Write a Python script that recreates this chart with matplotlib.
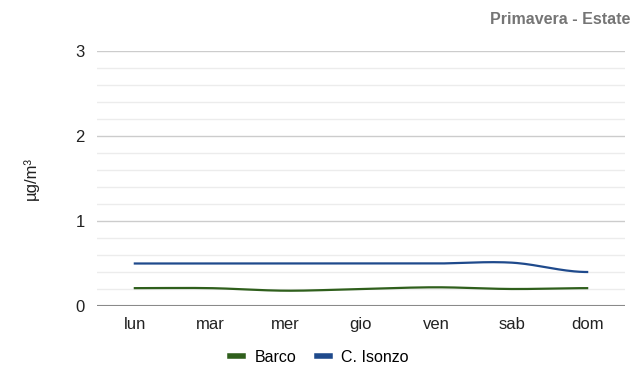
import numpy as np
import matplotlib.pyplot as plt
from matplotlib.ticker import MultipleLocator

days = ["lun", "mar", "mer", "gio", "ven", "sab", "dom"]
barco = [0.21, 0.21, 0.18, 0.20, 0.22, 0.20, 0.21]
isonzo = [0.50, 0.50, 0.50, 0.50, 0.50, 0.51, 0.40]

plt.rcParams["font.family"] = ["Liberation Sans", "DejaVu Sans"]


def smooth(x, y, n=30):
    # cubic hermite with catmull-rom style tangents (drawing only)
    x = np.asarray(x, float)
    y = np.asarray(y, float)
    m = np.zeros_like(y)
    m[1:-1] = (y[2:] - y[:-2]) / (x[2:] - x[:-2])
    xs, ys = [], []
    for i in range(len(x) - 1):
        t = np.linspace(0, 1, n)
        h = x[i + 1] - x[i]
        h00 = 2 * t**3 - 3 * t**2 + 1
        h10 = t**3 - 2 * t**2 + t
        h01 = -2 * t**3 + 3 * t**2
        h11 = t**3 - t**2
        xs.extend(x[i] + t * h)
        ys.extend(h00 * y[i] + h10 * h * m[i] + h01 * y[i + 1] + h11 * h * m[i + 1])
    return np.array(xs), np.array(ys)


fig = plt.figure(figsize=(6.35, 3.7), dpi=100)
ax = fig.add_axes([0.153, 0.173, 0.831, 0.689])

x = np.arange(len(days))
xs, ys = smooth(x, barco)
ax.plot(xs, ys, color="#2f5f1c", lw=1.6, label="Barco")
xs, ys = smooth(x, isonzo)
ax.plot(xs, ys, color="#1f4a8c", lw=1.6, label="C. Isonzo")

ax.set_xlim(-0.5, len(days) - 0.5)
ax.set_ylim(0, 3)
ax.set_xticks(x)
ax.set_xticklabels(days)
ax.yaxis.set_major_locator(MultipleLocator(1))
ax.yaxis.set_minor_locator(MultipleLocator(0.2))
ax.grid(which="major", axis="y", color="#cccccc", lw=1)
ax.grid(which="minor", axis="y", color="#ececec", lw=1)
ax.set_axisbelow(True)
ax.axhline(0, color="#8a8a8a", lw=1.5, zorder=1)
for s in ax.spines.values():
    s.set_visible(False)
ax.tick_params(axis="both", length=0, labelsize=12, colors="#222222")
ax.tick_params(axis="x", pad=8)
ax.tick_params(axis="y", pad=9)
ax.tick_params(which="minor", length=0)

ax.set_ylabel("µg/m³", fontsize=12, color="#222222", labelpad=26)
fig.text(0.992, 0.947, "Primavera - Estate", ha="right", va="center",
         fontsize=11.5, fontweight="bold", color="#757575")

fig.legend(loc="center", bbox_to_anchor=(0.503, 0.035), ncol=2, frameon=False,
           fontsize=11.5, handlelength=0.8, handletextpad=0.7, columnspacing=1.3)
for line in fig.legends[0].get_lines():
    line.set_linewidth(4)

fig.savefig("out.png", dpi=100)
